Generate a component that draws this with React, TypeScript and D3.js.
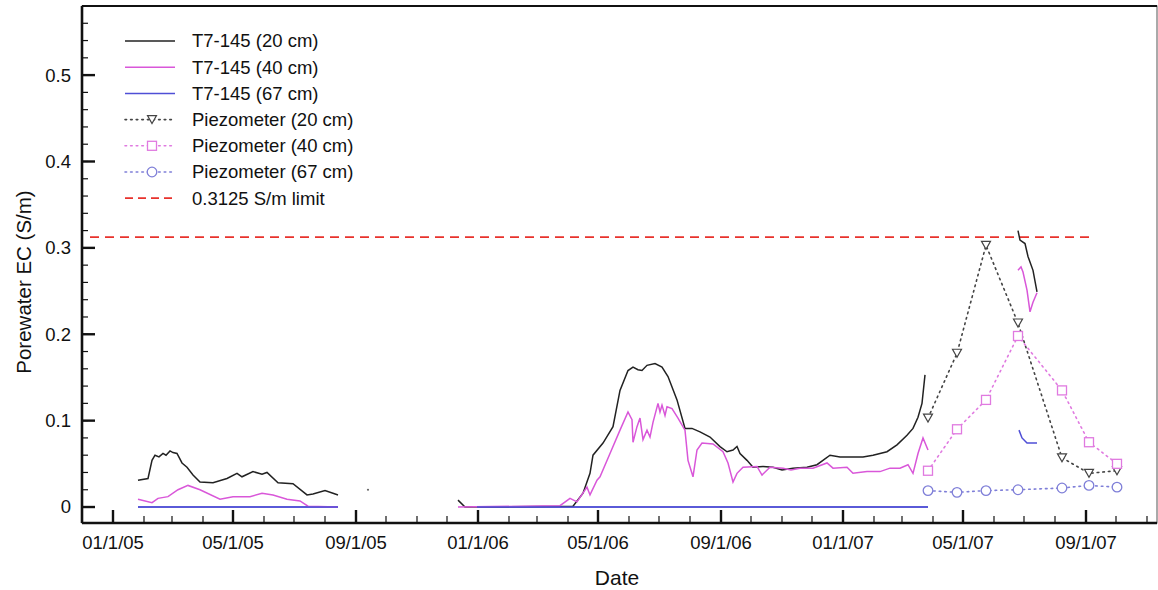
import React from "react";
import * as d3 from "d3";

// ---------- data ----------
// T7-145 sensor at 20 cm (two logging periods + isolated reading + June 2007 fragment)
const t7_20_a: [string, number][] = [
  ["2005-01-26", 0.031], ["2005-02-05", 0.033], ["2005-02-09", 0.054], ["2005-02-12", 0.06],
  ["2005-02-16", 0.058], ["2005-02-20", 0.062], ["2005-02-23", 0.06], ["2005-02-27", 0.065],
  ["2005-03-02", 0.063], ["2005-03-06", 0.062], ["2005-03-11", 0.051], ["2005-03-16", 0.046],
  ["2005-03-22", 0.037], ["2005-03-29", 0.029], ["2005-04-11", 0.028], ["2005-04-25", 0.033],
  ["2005-05-05", 0.039], ["2005-05-10", 0.035], ["2005-05-21", 0.041], ["2005-05-30", 0.038],
  ["2005-06-04", 0.04], ["2005-06-15", 0.028], ["2005-06-30", 0.027], ["2005-07-14", 0.014],
  ["2005-07-20", 0.015], ["2005-08-01", 0.019], ["2005-08-09", 0.016], ["2005-08-14", 0.014],
];
const t7_20_dot: [string, number][] = [["2005-09-13", 0.02]];
const t7_20_b: [string, number][] = [
  ["2005-12-12", 0.008], ["2005-12-19", 0.0], ["2006-04-06", 0.001], ["2006-04-16", 0.016],
  ["2006-04-23", 0.039], ["2006-04-26", 0.06], ["2006-05-06", 0.074], ["2006-05-16", 0.093],
  ["2006-05-23", 0.135], ["2006-05-31", 0.158], ["2006-06-05", 0.162], ["2006-06-10", 0.159],
  ["2006-06-14", 0.158], ["2006-06-19", 0.164], ["2006-06-27", 0.166], ["2006-07-04", 0.162],
  ["2006-07-10", 0.151], ["2006-07-19", 0.124], ["2006-07-27", 0.091], ["2006-08-03", 0.091],
  ["2006-08-11", 0.087], ["2006-08-21", 0.081], ["2006-08-31", 0.07], ["2006-09-07", 0.064],
  ["2006-09-13", 0.066], ["2006-09-17", 0.07], ["2006-09-20", 0.062], ["2006-09-27", 0.054],
  ["2006-10-03", 0.046], ["2006-10-13", 0.047], ["2006-10-23", 0.046], ["2006-11-01", 0.043],
  ["2006-11-12", 0.045], ["2006-11-26", 0.046], ["2006-12-06", 0.049], ["2006-12-19", 0.06],
  ["2006-12-29", 0.058], ["2007-01-08", 0.058], ["2007-01-21", 0.058], ["2007-01-31", 0.06],
  ["2007-02-14", 0.064], ["2007-02-24", 0.072], ["2007-03-06", 0.083], ["2007-03-12", 0.091],
  ["2007-03-17", 0.104], ["2007-03-21", 0.12], ["2007-03-24", 0.153],
];
const t7_20_c: [string, number][] = [
  ["2007-06-25", 0.32], ["2007-06-27", 0.309], ["2007-07-02", 0.305], ["2007-07-05", 0.29],
  ["2007-07-10", 0.274], ["2007-07-14", 0.249],
];

// T7-145 sensor at 40 cm
const t7_40_a: [string, number][] = [
  ["2005-01-26", 0.009], ["2005-02-09", 0.005], ["2005-02-15", 0.01], ["2005-02-25", 0.012],
  ["2005-03-07", 0.02], ["2005-03-17", 0.025], ["2005-03-29", 0.02], ["2005-04-18", 0.009],
  ["2005-05-01", 0.012], ["2005-05-18", 0.012], ["2005-05-30", 0.016], ["2005-06-10", 0.014],
  ["2005-06-24", 0.009], ["2005-07-07", 0.007], ["2005-07-15", 0.001], ["2005-08-14", 0.0],
];
const t7_40_b: [string, number][] = [
  ["2005-12-12", 0.0], ["2006-03-24", 0.0015], ["2006-04-03", 0.01], ["2006-04-10", 0.006],
  ["2006-04-20", 0.023], ["2006-04-23", 0.014], ["2006-04-30", 0.031], ["2006-05-03", 0.035],
  ["2006-05-13", 0.062], ["2006-05-23", 0.089], ["2006-05-31", 0.11], ["2006-06-04", 0.101],
  ["2006-06-05", 0.075], ["2006-06-09", 0.093], ["2006-06-12", 0.103], ["2006-06-15", 0.078],
  ["2006-06-19", 0.089], ["2006-06-22", 0.081], ["2006-06-25", 0.098], ["2006-06-30", 0.12],
  ["2006-07-02", 0.11], ["2006-07-04", 0.118], ["2006-07-07", 0.106], ["2006-07-09", 0.116],
  ["2006-07-14", 0.114], ["2006-07-20", 0.103], ["2006-07-27", 0.089], ["2006-07-30", 0.054],
  ["2006-08-04", 0.035], ["2006-08-08", 0.066], ["2006-08-13", 0.074], ["2006-08-24", 0.073],
  ["2006-09-03", 0.064], ["2006-09-08", 0.051], ["2006-09-13", 0.029], ["2006-09-17", 0.039],
  ["2006-09-23", 0.046], ["2006-10-07", 0.047], ["2006-10-12", 0.037], ["2006-10-20", 0.046],
  ["2006-11-02", 0.045], ["2006-11-10", 0.043], ["2006-11-19", 0.045], ["2006-12-02", 0.045],
  ["2006-12-16", 0.051], ["2006-12-22", 0.045], ["2007-01-05", 0.046], ["2007-01-11", 0.039],
  ["2007-01-25", 0.041], ["2007-02-07", 0.041], ["2007-02-17", 0.045], ["2007-02-27", 0.045],
  ["2007-03-07", 0.049], ["2007-03-12", 0.039], ["2007-03-17", 0.062], ["2007-03-22", 0.08],
  ["2007-03-27", 0.066],
];
const t7_40_c: [string, number][] = [
  ["2007-06-25", 0.274], ["2007-06-28", 0.278], ["2007-06-30", 0.272], ["2007-07-04", 0.251],
  ["2007-07-07", 0.226], ["2007-07-10", 0.237], ["2007-07-14", 0.248],
];

// T7-145 sensor at 67 cm
const t7_67_a: [string, number][] = [["2005-01-26", 0.0], ["2005-08-14", 0.0]];
const t7_67_b: [string, number][] = [["2005-12-31", 0.0], ["2007-03-27", 0.0]];
const t7_67_c: [string, number][] = [
  ["2007-06-26", 0.089], ["2007-06-29", 0.08], ["2007-07-04", 0.074], ["2007-07-14", 0.074],
];

// Piezometer samples
const piezoDates = ["2007-03-27", "2007-04-25", "2007-05-24", "2007-06-25", "2007-08-08", "2007-09-04", "2007-10-02"];
const piezo20 = [0.103, 0.178, 0.303, 0.213, 0.057, 0.039, 0.042];
const piezo40 = [0.042, 0.09, 0.124, 0.198, 0.135, 0.075, 0.05];
const piezo67 = [0.019, 0.017, 0.019, 0.02, 0.022, 0.025, 0.023];

// EC limit
const limitValue = 0.3125;
const limitDates = ["2004-12-09", "2007-09-05"];

// Axis ticks
const yMajorTicks = [0, 0.1, 0.2, 0.3, 0.4, 0.5];
const xDomain = ["2004-12-01", "2007-11-11"];
const yDomain = [-0.0185, 0.58];

const legendItems = [
  { label: "T7-145 (20 cm)", kind: "solid", color: "#222222" },
  { label: "T7-145 (40 cm)", kind: "solid", color: "#d957d9" },
  { label: "T7-145 (67 cm)", kind: "solid", color: "#4f4fd6" },
  { label: "Piezometer (20 cm)", kind: "tri", color: "#444444" },
  { label: "Piezometer (40 cm)", kind: "sq", color: "#e07ae0" },
  { label: "Piezometer (67 cm)", kind: "circ", color: "#7f7fd8" },
  { label: "0.3125 S/m limit", kind: "dash", color: "#e8322c" },
];

const parse = d3.timeParse("%Y-%m-%d");
const FONT = "'Liberation Sans', Arial, Helvetica, sans-serif";

export default function App() {
  const W = 1158, H = 590;
  const left = 82, right = 1157, top = 6, bottom = 523;
  const x = d3.scaleUtc().domain(xDomain.map((s) => parse(s) as Date)).range([left, right]);
  const y = d3.scaleLinear().domain(yDomain).range([bottom, top]);

  const line = d3
    .line<[string, number]>()
    .x((d) => x(parse(d[0]) as Date))
    .y((d) => y(d[1]));

  const monthTicks = d3.timeMonth.range(new Date(2004, 11, 1), new Date(2007, 10, 12));
  const yMinor = d3.range(1, 30).map((i) => +(i * 0.02).toFixed(2)).filter((v) => v < 0.58);
  const fmt = d3.timeFormat("%m/%-d/%y");

  const px = (s: string) => x(parse(s) as Date);
  const piezo = (vals: number[]) => piezoDates.map((d, i) => [d, vals[i]] as [string, number]);

  const tri = (cx: number, cy: number, c: string, k: string) => (
    <path key={k} d={`M${cx - 4.5},${cy - 4} L${cx + 4.5},${cy - 4} L${cx},${cy + 4} Z`} fill="white" stroke={c} strokeWidth={1.2} />
  );
  const sq = (cx: number, cy: number, c: string, k: string) => (
    <rect key={k} x={cx - 4.5} y={cy - 4.5} width={9} height={9} fill="white" stroke={c} strokeWidth={1.3} />
  );
  const circ = (cx: number, cy: number, c: string, k: string) => (
    <circle key={k} cx={cx} cy={cy} r={4.8} fill="white" stroke={c} strokeWidth={1.3} />
  );

  const c20 = legendItems[0].color, c40 = legendItems[1].color, c67 = legendItems[2].color;
  const p20 = legendItems[3].color, p40 = legendItems[4].color, p67 = legendItems[5].color;
  const red = legendItems[6].color;

  return (
    <svg width={W} height={H} style={{ position: "absolute", left: 0, top: 0, background: "white" }} fontFamily={FONT}>
      <rect x={0} y={0} width={W} height={H} fill="white" />

      {/* limit line */}
      <line x1={px(limitDates[0])} x2={px(limitDates[1])} y1={y(limitValue)} y2={y(limitValue)} stroke={red} strokeWidth={1.8} strokeDasharray="9 6" />

      {/* T7-145 67cm */}
      {[t7_67_a, t7_67_b, t7_67_c].map((s, i) => (
        <path key={"b" + i} d={line(s) || ""} fill="none" stroke={c67} strokeWidth={1.5} />
      ))}
      {/* T7-145 20cm */}
      {[t7_20_a, t7_20_b, t7_20_c].map((s, i) => (
        <path key={"k" + i} d={line(s) || ""} fill="none" stroke={c20} strokeWidth={1.5} />
      ))}
      {t7_20_dot.map((d, i) => (
        <circle key={"dot" + i} cx={px(d[0])} cy={y(d[1])} r={1.1} fill="#666" />
      ))}
      {/* T7-145 40cm */}
      {[t7_40_a, t7_40_b, t7_40_c].map((s, i) => (
        <path key={"m" + i} d={line(s) || ""} fill="none" stroke={c40} strokeWidth={1.5} />
      ))}
      {/* redraw 67cm zero line over others */}
      {[t7_67_a, t7_67_b].map((s, i) => (
        <path key={"b2" + i} d={line(s) || ""} fill="none" stroke={c67} strokeWidth={1.5} />
      ))}

      {/* piezometers */}
      <path d={line(piezo(piezo20)) || ""} fill="none" stroke={p20} strokeWidth={1.6} strokeDasharray="1.6 4" strokeLinecap="round" />
      <path d={line(piezo(piezo40)) || ""} fill="none" stroke={p40} strokeWidth={1.6} strokeDasharray="1.6 4" strokeLinecap="round" />
      <path d={line(piezo(piezo67)) || ""} fill="none" stroke={p67} strokeWidth={1.6} strokeDasharray="1.6 4" strokeLinecap="round" />
      {piezoDates.map((d, i) => tri(px(d), y(piezo20[i]), p20, "t" + i))}
      {piezoDates.map((d, i) => sq(px(d), y(piezo40[i]), p40, "s" + i))}
      {piezoDates.map((d, i) => circ(px(d), y(piezo67[i]), p67, "c" + i))}

      {/* frame */}
      <rect x={left} y={top} width={right - left} height={bottom - top} fill="none" stroke="#555" strokeWidth={1} />
      <line x1={left} x2={right} y1={top} y2={top} stroke="#111" strokeWidth={2.2} />
      <line x1={left} x2={left} y1={top} y2={bottom} stroke="#111" strokeWidth={2.6} />
      <line x1={left} x2={right} y1={bottom} y2={bottom} stroke="#111" strokeWidth={2.6} />

      {/* y ticks */}
      {yMinor.map((v) => (
        <line key={"ym" + v} x1={left} x2={left + 6} y1={y(v)} y2={y(v)} stroke="#111" strokeWidth={1.2} />
      ))}
      {yMajorTicks.map((v) => (
        <g key={"yM" + v}>
          <line x1={left} x2={left + 13} y1={y(v)} y2={y(v)} stroke="#111" strokeWidth={2.4} />
          <text x={left - 11} y={y(v)} dy="0.35em" textAnchor="end" fontSize={18.5} fill="#111">
            {v === 0 ? "0" : v.toFixed(1)}
          </text>
        </g>
      ))}

      {/* x ticks */}
      {monthTicks.map((m) => {
        const major = m.getMonth() % 4 === 0;
        const xx = x(new Date(Date.UTC(m.getFullYear(), m.getMonth(), 1)));
        if (xx < left + 2 || xx > right - 1) return null;
        return (
          <g key={"xt" + m.getTime()}>
            <line x1={xx} x2={xx} y1={bottom} y2={bottom - (major ? 13 : 7)} stroke="#111" strokeWidth={major ? 2.4 : 1.2} />
            {major && (
              <text x={xx} y={549} textAnchor="middle" fontSize={18.5} fill="#111">
                {fmt(m)}
              </text>
            )}
          </g>
        );
      })}

      {/* axis titles */}
      <text x={617} y={585} textAnchor="middle" fontSize={21} fill="#111">Date</text>
      <text transform="translate(31,282) rotate(-90)" textAnchor="middle" fontSize={20.5} fill="#111">
        Porewater EC (S/m)
      </text>

      {/* legend */}
      {legendItems.map((it, i) => {
        const ly = 41 + i * 26.2;
        const x1 = 125, x2 = 175, mx = 152;
        let sym: React.ReactNode = null;
        let lineEl: React.ReactNode;
        if (it.kind === "solid") {
          lineEl = <line x1={x1} x2={x2} y1={ly} y2={ly} stroke={it.color} strokeWidth={1.5} />;
        } else if (it.kind === "dash") {
          lineEl = <line x1={x1} x2={x2} y1={ly} y2={ly} stroke={it.color} strokeWidth={1.8} strokeDasharray="8 5" />;
        } else {
          lineEl = <line x1={x1} x2={x2} y1={ly} y2={ly} stroke={it.color} strokeWidth={1.6} strokeDasharray="1.6 4" strokeLinecap="round" />;
          if (it.kind === "tri") sym = tri(mx, ly, it.color, "lt");
          if (it.kind === "sq") sym = sq(mx, ly, it.color, "ls");
          if (it.kind === "circ") sym = circ(mx, ly, it.color, "lc");
        }
        return (
          <g key={"lg" + i}>
            {lineEl}
            {sym}
            <text x={192} y={ly} dy="0.35em" fontSize={18.5} fill="#111">{it.label}</text>
          </g>
        );
      })}
    </svg>
  );
}
